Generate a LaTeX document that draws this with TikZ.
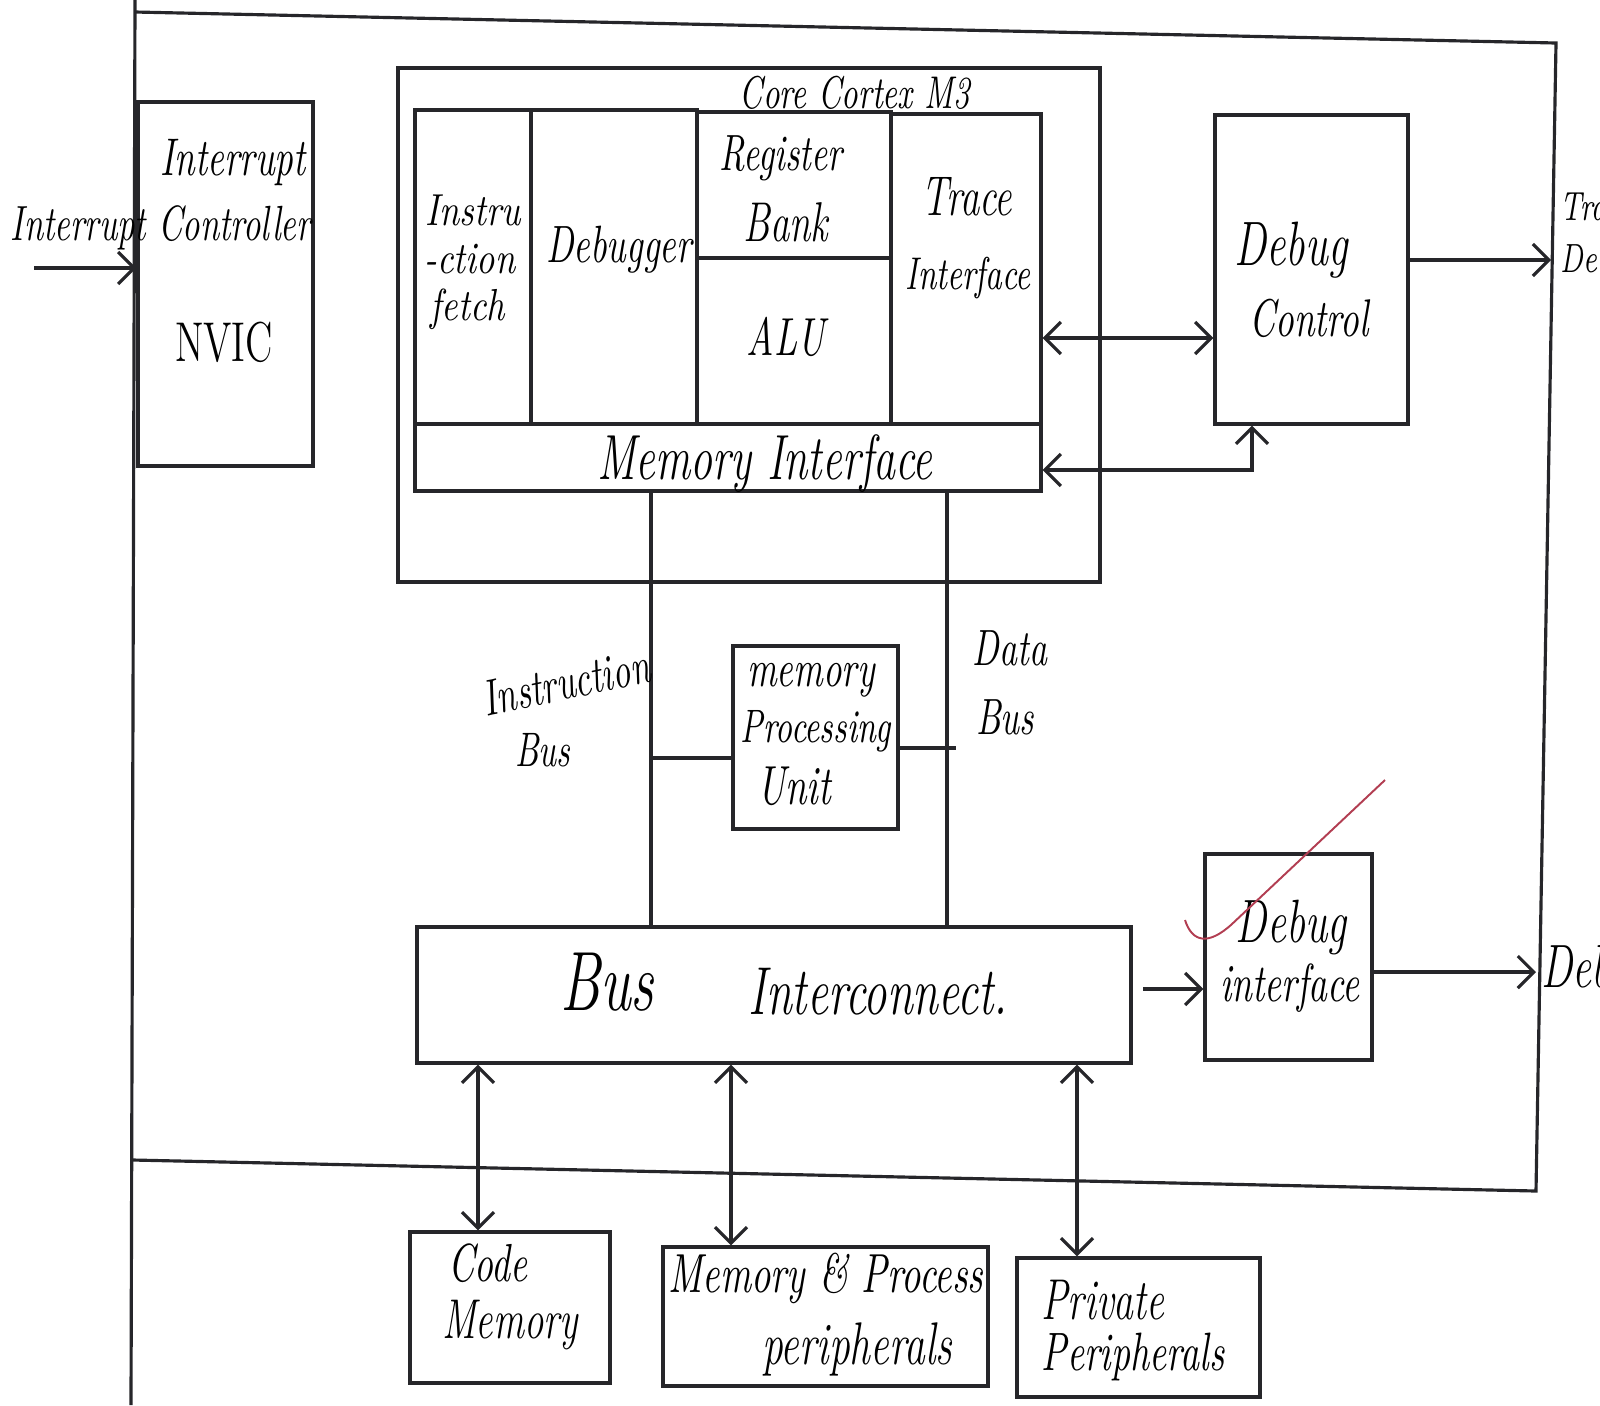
\documentclass[tikz,border=0pt]{standalone}
\usepackage{graphicx}
\usetikzlibrary{arrows.meta,fit,calc}
\newcommand{\hwtxt}[2][11]{\scalebox{1}[1.45]{\fontsize{#1}{#1}\selectfont\itshape #2}}
\newcommand{\hwsm}[2][11]{\scalebox{1}[1.25]{\fontsize{#1}{#1}\selectfont\itshape #2}}
\newcommand{\hwup}[2][11]{\scalebox{1}[1.45]{\fontsize{#1}{#1}\selectfont\upshape #2}}
\definecolor{tickred}{RGB}{178,62,82}
\definecolor{pen}{RGB}{38,38,42}
\tikzset{
  box/.style={draw=pen, line width=0.9pt, inner sep=0pt, rectangle},
  lbl/.style={inner sep=0pt, text=black},
  conn/.style={draw=pen, line width=0.9pt},
  arr/.style={conn, -{Straight Barb[length=1.6mm,width=3.2mm]}},
  darr/.style={conn, {Straight Barb[length=1.6mm,width=3.2mm]}-{Straight Barb[length=1.6mm,width=3.2mm]}},
}
\begin{document}
\begin{tikzpicture}[x=0.01cm,y=-0.01cm]
\useasboundingbox (0,0) rectangle (1600,1405);

% outer chip boundary
\coordinate (chipTL) at (135,12);
\coordinate (chipTR) at (1556,43);
\coordinate (chipBR) at (1536,1191);
\coordinate (chipBL) at (133,1160);
\draw[conn] (135,0) -- (131,1405);
\draw[conn] (chipTL) -- (chipTR) -- (chipBR) -- (chipBL);

% helper coordinates
\coordinate (y338) at (0,338);
\coordinate (y470) at (0,470);
\coordinate (y260) at (0,260);
\coordinate (y758) at (0,758);
\coordinate (y748) at (0,748);
\coordinate (y972) at (0,972);
\coordinate (x651) at (651,0);
\coordinate (x947) at (947,0);
\coordinate (x956) at (956,0);
\coordinate (x1252) at (1252,0);
\coordinate (x478) at (478,0);
\coordinate (x731) at (731,0);
\coordinate (x1077) at (1077,0);

% NVIC
\node[box, fit={(138,102) (313,466)}] (nvic) {};
\node[lbl] (tInt) at (233,163) {\hwtxt[10.4]{Interrupt}};
\node[lbl] (tIntCtl) at (161,228) {\hwtxt[9.7]{Interrupt Controller}};
\node[lbl] (tNVIC) at (224,342) {\hwup[11]{NVIC}};
\coordinate (irqin) at (34,268);
\draw[arr] (irqin) -- (irqin -| nvic.west);

% Core Cortex M3
\node[box, fit={(398,68) (1100,582)}] (core) {};
\node[lbl] (tCore) at (855,93) {\hwtxt[9]{Core Cortex M3}};
\node[box, fit={(415,110) (531,424)}] (ifetch) {};
\node[box, fit={(531,110) (697,424)}] (dbgr) {};
\node[box, fit={(697,112) (891,258)}] (regb) {};
\node[box, fit={(697,258) (891,424)}] (alu) {};
\node[box, fit={(891,114) (1041,424)}] (trace) {};
\node[box, fit={(415,424) (1041,491)}] (memif) {};
\node[lbl] (tIf1) at (473,210) {\hwsm[10.2]{Instru}};
\node[lbl] (tIf2) at (470,259) {\hwsm[10.2]{-ction}};
\node[lbl] (tIf3) at (468,309) {\hwsm[10.2]{fetch}};
\node[lbl] (tDbgr) at (619,250) {\hwtxt[10.3]{Debugger}};
\node[lbl] (tReg1) at (781,158) {\hwtxt[10]{Register}};
\node[lbl] (tReg2) at (786,222) {\hwtxt[11]{Bank}};
\node[lbl] (tALU) at (786,337) {\hwtxt[10.5]{ALU}};
\node[lbl] (tTr1) at (967,197) {\hwtxt[11]{Trace}};
\node[lbl] (tTr2) at (968,278) {\hwtxt[9]{Interface}};
\node[lbl] (tMemIf) at (765,464) {\hwtxt[12.5]{Memory Interface}};

% Debug control
\node[box, fit={(1215,115) (1408,424)}] (dbgctl) {};
\node[lbl] (tDc1) at (1291,250) {\hwtxt[12.3]{Debug}};
\node[lbl] (tDc2) at (1309,318) {\hwtxt[10.4]{Control}};
\draw[darr] (trace.east |- y338) -- (dbgctl.west |- y338);
\draw[darr] (memif.east |- y470) -| (dbgctl.south -| x1252);
\coordinate (traceout) at (1551,260);
\draw[arr] (dbgctl.east |- y260) -- (traceout);
\node[lbl, anchor=west] (tEdge1) at (1560,207) {\hwtxt[8]{Trace}};
\node[lbl, anchor=west] (tEdge2) at (1560,262) {\hwtxt[8]{Debug}};

% Memory processing unit and buses
\node[box, fit={(733,646) (898,829)}] (mpu) {};
\node[lbl] (tMpu1) at (811,680) {\hwtxt[10.3]{memory}};
\node[lbl] (tMpu2) at (816,731) {\hwtxt[9.2]{Processing}};
\node[lbl] (tMpu3) at (794,786) {\hwtxt[10.8]{Unit}};

\node[box, fit={(417,927) (1131,1063)}] (bus) {};
\node[lbl] (tBus1) at (607,982) {\hwtxt[16.5]{Bus}};
\node[lbl] (tBus2) at (878,992) {\hwtxt[13.3]{Interconnect.}};

\draw[conn] (memif.south -| x651) -- (bus.north -| x651);
\draw[conn] (memif.south -| x947) -- (bus.north -| x947);
\draw[conn] (x651 |- y758) -- (mpu.west |- y758);
\draw[conn] (mpu.east |- y748) -- (x956 |- y748);
\node[lbl, rotate=12] (tIb1) at (566,682) {\hwtxt[10]{Instruction}};
\node[lbl] (tIb2) at (543,750) {\hwtxt[9.5]{Bus}};
\node[lbl] (tDb1) at (1010,648) {\hwtxt[10]{Data}};
\node[lbl] (tDb2) at (1005,717) {\hwtxt[10]{Bus}};

% Debug interface
\node[box, fit={(1205,854) (1372,1060)}] (dbgif) {};
\node[lbl] (tDi1) at (1291,927) {\hwtxt[12]{Debug}};
\node[lbl] (tDi2) at (1290,988) {\hwtxt[10.5]{interface}};
\coordinate (busout) at (1143,989);
\draw[arr] (busout) -- (dbgif.west |- busout);
\coordinate (dbgout) at (1536,972);
\draw[arr] (dbgif.east |- y972) -- (dbgout);
\node[lbl, anchor=west] (tEdge3) at (1541,972) {\hwtxt[12]{Debug}};
\draw[tickred, line width=0.55pt] (1185,920) .. controls (1192,942) and (1208,946) .. (1232,924) -- (1385,780);

% bottom boxes
\node[box, fit={(410,1232) (610,1383)}] (code) {};
\node[lbl] (tCm1) at (488,1263) {\hwtxt[10.5]{Code}};
\node[lbl] (tCm2) at (510,1325) {\hwtxt[11]{Memory}};
\node[box, fit={(663,1247) (988,1386)}] (mpp) {};
\node[lbl] (tMp1) at (826,1278) {\hwtxt[10.8]{Memory \& Process}};
\node[lbl] (tMp2) at (857,1349) {\hwtxt[11.8]{peripherals}};
\node[box, fit={(1017,1258) (1260,1397)}] (priv) {};
\node[lbl] (tPv1) at (1103,1300) {\hwtxt[11.3]{Private}};
\node[lbl] (tPv2) at (1133,1357) {\hwtxt[10.6]{Peripherals}};

\draw[darr] (bus.south -| x478) -- (code.north -| x478);
\draw[darr] (bus.south -| x731) -- (mpp.north -| x731);
\draw[darr] (bus.south -| x1077) -- (priv.north -| x1077);
\end{tikzpicture}
\end{document}
